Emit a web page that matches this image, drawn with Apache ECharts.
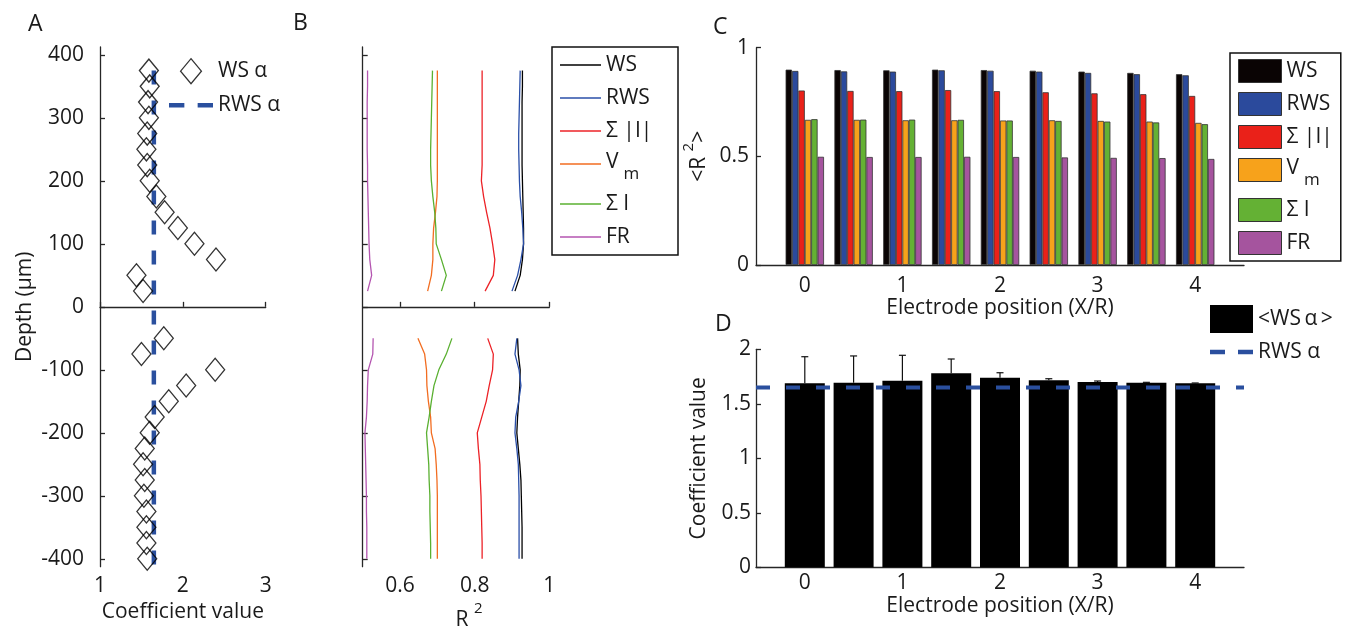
<!DOCTYPE html>
<html><head><meta charset="utf-8">
<script src="https://cdn.jsdelivr.net/npm/echarts@6/dist/echarts.min.js"></script>
<style>html,body{margin:0;padding:0;background:#fff}#c{width:1351px;height:628px}</style>
</head><body><div id="c"></div>
<script>
// ---- Panel A / B : depth profiles ----
const depthTop = [375,350,325,300,275,250,225,200,175,150,125,100,75,50,25];
const depthBottom = [-50,-75,-100,-125,-150,-175,-200,-225,-250,-275,-300,-325,-350,-375,-400];
const depthTicks = [-400,-300,-200,-100,0,100,200,300,400];
const wsAlphaTop = [1.59,1.60,1.58,1.59,1.57,1.56,1.57,1.60,1.68,1.78,1.94,2.14,2.40,1.44,1.52];
const wsAlphaBottom = [1.77,1.50,2.39,2.04,1.83,1.66,1.60,1.54,1.52,1.54,1.53,1.56,1.56,1.56,1.57];
const rwsAlpha = 1.65;
const rwsLineDepths = [375,-412.5];

const wsTop    = [0.928,0.928,0.927,0.927,0.927,0.927,0.927,0.928,0.929,0.930,0.931,0.931,0.928,0.922,0.908];
const rwsTop   = [0.922,0.921,0.920,0.919,0.918,0.918,0.919,0.920,0.922,0.926,0.929,0.931,0.924,0.915,0.900];
const absITop  = [0.820,0.820,0.820,0.820,0.820,0.820,0.820,0.818,0.824,0.832,0.841,0.848,0.854,0.850,0.828];
const vmTop    = [0.700,0.700,0.700,0.700,0.700,0.700,0.700,0.700,0.699,0.695,0.690,0.688,0.688,0.684,0.674];
const sumITop  = [0.687,0.686,0.685,0.684,0.683,0.682,0.682,0.684,0.688,0.693,0.696,0.697,0.711,0.724,0.711];
const frTop    = [0.513,0.513,0.512,0.512,0.512,0.512,0.513,0.513,0.514,0.515,0.516,0.517,0.519,0.524,0.513];
const wsBot    = [0.915,0.917,0.922,0.921,0.918,0.915,0.913,0.917,0.921,0.924,0.925,0.926,0.927,0.927,0.927];
const rwsBot   = [0.913,0.908,0.919,0.924,0.918,0.910,0.908,0.913,0.917,0.918,0.919,0.919,0.919,0.919,0.919];
const absIBot  = [0.835,0.850,0.848,0.839,0.831,0.819,0.807,0.810,0.814,0.815,0.817,0.818,0.819,0.820,0.820];
const vmBot    = [0.648,0.666,0.671,0.672,0.676,0.682,0.684,0.694,0.697,0.699,0.700,0.700,0.700,0.700,0.700];
const sumIBot  = [0.739,0.724,0.704,0.691,0.684,0.678,0.671,0.674,0.677,0.678,0.680,0.680,0.681,0.682,0.682];
const frBot    = [0.528,0.527,0.515,0.513,0.512,0.510,0.506,0.507,0.508,0.509,0.510,0.510,0.511,0.511,0.511];

// ---- Panel C / D : electrode position ----
const positions = ['0','0.5','1','1.5','2','2.5','3','3.5','4'];
const xCats = ['-0.5','0','0.5','1','1.5','2','2.5','3','3.5','4','4.5'];
const wsR2   = [0.899,0.897,0.896,0.899,0.897,0.894,0.890,0.884,0.878];
const rwsR2  = [0.893,0.891,0.890,0.896,0.894,0.890,0.884,0.878,0.873];
const absIR2 = [0.803,0.801,0.800,0.805,0.800,0.795,0.790,0.786,0.778];
const vmR2   = [0.668,0.668,0.666,0.666,0.665,0.666,0.663,0.660,0.654];
const sumIR2 = [0.671,0.669,0.669,0.668,0.665,0.663,0.660,0.656,0.648];
const frR2   = [0.498,0.497,0.497,0.498,0.497,0.495,0.493,0.492,0.488];
const wsAlphaMean = [1.688,1.694,1.712,1.780,1.740,1.715,1.700,1.694,1.688];
const wsAlphaStd  = [0.244,0.245,0.233,0.131,0.045,0.015,0.009,0.003,0.003];

const varNames = ['WS','RWS','Σ |I|','Vm','Σ I','FR'];
const lineColors = ['#000000','#2a4fa8','#ec2227','#f26d21','#5ab031','#b455b0'];
const barColors  = ['#0a0404','#2b4a9c','#ea2119','#f7a21b','#64b134','#a5549e'];

const FONT = 'Open Sans';
const TXT = '#1a1a1a';
const AX = '#262626';
const FS = 21;
const BLUE_DASH = '#2a4f9e';

const ICON_LINE = 'path://M0,0H41V1.3H0Z';
const ICON_DASH = 'path://M0,0H15V4.5H0Z M28,0H43V4.5H28Z';
const ICON_DIAMOND = 'path://M10,0L20,12L10,24L0,12Z';

function axisBase(){
  return {
    axisLine:{show:true,lineStyle:{color:AX,width:1.3}},
    axisTick:{show:true,inside:true,length:5,lineStyle:{color:AX,width:1.3}},
    splitLine:{show:false},
    axisLabel:{color:TXT,fontSize:FS,fontFamily:FONT},
    nameTextStyle:{color:TXT,fontSize:FS,fontFamily:FONT},
    nameLocation:'middle'
  };
}
function merge(a,b){
  const o = Object.assign({},a);
  for(const k in b){
    if(b[k] && typeof b[k]==='object' && !Array.isArray(b[k]) && a[k] && typeof a[k]==='object') o[k]=merge(a[k],b[k]);
    else o[k]=b[k];
  }
  return o;
}
const supRich = {sup:{fontSize:15,lineHeight:16,padding:[0,0,14,0],verticalAlign:'bottom',color:TXT,fontFamily:FONT},
                 b:{fontSize:FS,lineHeight:24,verticalAlign:'bottom',color:TXT,fontFamily:FONT}};
const legendRich = {v:{fontSize:FS,lineHeight:24,verticalAlign:'top',color:TXT,fontFamily:FONT},
                    sub:{fontSize:17,lineHeight:18,padding:[14,0,0,5],verticalAlign:'top',color:TXT,fontFamily:FONT},
                    t:{fontSize:FS,lineHeight:24,width:64,color:TXT,fontFamily:FONT}};
function legendFmt(name){
  const base = name.split('#')[0];
  return base === 'Vm' ? '{v|V}{sub|m}' : base;
}
function legendFmtWide(name){
  const base = name.split('#')[0];
  return base === 'Vm' ? '{v|V}{sub|m}' : '{t|' + base + '}';
}

const profilesTop = [wsTop,rwsTop,absITop,vmTop,sumITop,frTop];
const profilesBot = [wsBot,rwsBot,absIBot,vmBot,sumIBot,frBot];
const r2Series = [wsR2,rwsR2,absIR2,vmR2,sumIR2,frR2];

const series = [];
// Panel A
series.push({
  name:'RWS α#A', type:'line', xAxisIndex:0, yAxisIndex:0, symbol:'none', z:2,
  data: rwsLineDepths.map(d=>[rwsAlpha,d]),
  itemStyle:{color:BLUE_DASH},
  lineStyle:{color:BLUE_DASH,width:4.5,type:[14,16]}
});
series.push({
  name:'WS α#A', type:'scatter', xAxisIndex:0, yAxisIndex:0, z:3,
  symbol:'diamond', symbolSize:[19,23],
  itemStyle:{color:'rgba(0,0,0,0)',borderColor:'#000',borderWidth:1.3},
  data: depthTop.map((d,i)=>[wsAlphaTop[i],d]).concat(depthBottom.map((d,i)=>[wsAlphaBottom[i],d]))
});
// Panel B
varNames.forEach((n,k)=>{
  [[depthTop,profilesTop[k]],[depthBottom,profilesBot[k]]].forEach(([ds,vs])=>{
    series.push({
      name:n+'#B', type:'line', xAxisIndex:1, yAxisIndex:1, symbol:'none',
      lineStyle:{color:lineColors[k],width:1.3}, itemStyle:{color:lineColors[k]},
      data: ds.map((d,i)=>[vs[i],d])
    });
  });
});
// Panel C
varNames.forEach((n,k)=>{
  series.push({
    name:n+'#C', type:'bar', xAxisIndex:2, yAxisIndex:2, barWidth:6.4, barGap:'0%',
    itemStyle:{color:barColors[k],borderColor:'#333',borderWidth:0.8},
    data: positions.map((p,i)=>[p,r2Series[k][i]])
  });
});
// Panel D
series.push({
  name:'<WS\u2009α\u2009>#D', type:'bar', xAxisIndex:3, yAxisIndex:3, barWidth:40, z:2,
  itemStyle:{color:'#000'},
  data: positions.map((p,i)=>[p,wsAlphaMean[i]])
});
series.push({
  name:'errD', type:'custom', xAxisIndex:3, yAxisIndex:3, z:3,
  data: positions.map((p,i)=>[p,wsAlphaMean[i],wsAlphaMean[i]+wsAlphaStd[i]]),
  renderItem:function(params,api){
    const x = api.value(0);
    const p0 = api.coord([x,api.value(1)]);
    const p1 = api.coord([x,api.value(2)]);
    const st = {stroke:'#111',lineWidth:1.2};
    return {type:'group',children:[
      {type:'line',shape:{x1:p0[0],y1:p0[1],x2:p1[0],y2:p1[1]},style:st},
      {type:'line',shape:{x1:p1[0]-3.5,y1:p1[1],x2:p1[0]+3.5,y2:p1[1]},style:st}
    ]};
  }
});
series.push({
  name:'RWS α#D', type:'line', xAxisIndex:3, yAxisIndex:3, symbol:'none', z:4,
  data: xCats.map(c=>[c,rwsAlpha]),
  itemStyle:{color:BLUE_DASH},
  lineStyle:{color:BLUE_DASH,width:4,type:[14,16]}
});

const legendText = {color:TXT,fontSize:FS,fontFamily:FONT,lineHeight:24,rich:legendRich};

const option = {
  animation:false,
  backgroundColor:'#fff',
  textStyle:{fontFamily:FONT},
  title:[
    {text:'A',left:23,top:8,textStyle:{fontSize:23,fontWeight:'normal',color:TXT,fontFamily:FONT}},
    {text:'B',left:288,top:7,textStyle:{fontSize:23,fontWeight:'normal',color:TXT,fontFamily:FONT}},
    {text:'C',left:708,top:11,textStyle:{fontSize:23,fontWeight:'normal',color:TXT,fontFamily:FONT}},
    {text:'D',left:710,top:308,textStyle:{fontSize:23,fontWeight:'normal',color:TXT,fontFamily:FONT}}
  ],
  grid:[
    {left:100,top:47,width:165.7,height:519.7,outerBoundsMode:'none'},
    {left:362.7,top:47,width:186.6,height:519.7,outerBoundsMode:'none'},
    {left:756,top:47.7,width:488,height:217.3,outerBoundsMode:'none'},
    {left:756,top:349.3,width:488,height:218,outerBoundsMode:'none'}
  ],
  xAxis:[
    merge(axisBase(),{gridIndex:0,type:'value',min:1,max:3,interval:1,name:'Coefficient value',nameGap:30,
      axisLabel:{margin:9}}),
    merge(axisBase(),{gridIndex:1,type:'value',min:0.5,max:1,name:'R {sup|2}',nameGap:19,
      nameTextStyle:{rich:supRich,padding:[0,0,0,26]},
      axisLabel:{margin:9,customValues:[0.6,0.8,1]},axisTick:{customValues:[0.6,0.8,1]}}),
    merge(axisBase(),{gridIndex:2,type:'category',data:xCats,boundaryGap:false,name:'Electrode position (X/R)',nameGap:28,
      axisTick:{show:false},axisLabel:{interval:0,margin:11,formatter:v=>Number.isInteger(+v)?v:''}}),
    merge(axisBase(),{gridIndex:3,type:'category',data:xCats,boundaryGap:false,name:'Electrode position (X/R)',nameGap:28,
      axisTick:{show:false},axisLabel:{interval:0,margin:5,formatter:v=>Number.isInteger(+v)?v:''}})
  ],
  yAxis:[
    merge(axisBase(),{gridIndex:0,type:'value',min:-412.5,max:412.5,name:'Depth (μm)',nameGap:64,
      axisLabel:{margin:16,customValues:depthTicks},axisTick:{customValues:depthTicks}}),
    merge(axisBase(),{gridIndex:1,type:'value',min:-412.5,max:412.5,
      axisLabel:{show:false,customValues:depthTicks},axisTick:{customValues:depthTicks}}),
    merge(axisBase(),{gridIndex:2,type:'value',min:0,max:1,interval:0.5,name:'<R {sup|2}>',nameGap:46,
      nameTextStyle:{rich:supRich},axisLabel:{margin:7}}),
    merge(axisBase(),{gridIndex:3,type:'value',min:0,max:2,interval:0.5,name:'Coefficient value',nameGap:46,
      axisLabel:{margin:5}})
  ],
  legend:[
    {orient:'vertical',left:169,top:58,padding:0,itemWidth:44,itemHeight:25,itemGap:9,
      data:[
        {name:'WS α#A',icon:ICON_DIAMOND,itemStyle:{color:'rgba(0,0,0,0)',borderColor:'#000',borderWidth:1.3}},
        {name:'RWS α#A',icon:ICON_DASH,itemStyle:{color:BLUE_DASH,borderWidth:0}}
      ],
      formatter:legendFmt,textStyle:legendText},
    {orient:'vertical',left:552,top:47,padding:[6,8,6,8],borderColor:'#111',borderWidth:1.5,
      itemWidth:41,itemHeight:14,itemGap:9,
      data:varNames.map((n,k)=>({name:n+'#B',icon:ICON_LINE,itemStyle:{color:lineColors[k],borderWidth:0}})),
      formatter:legendFmtWide,textStyle:legendText},
    {orient:'vertical',left:1230,top:53,padding:[6,8,6,8],borderColor:'#111',borderWidth:1.5,
      itemWidth:43,itemHeight:23,itemGap:9,icon:'rect',
      data:varNames.map(n=>n+'#C'),formatter:legendFmt,textStyle:legendText,
      itemStyle:{borderColor:'#333',borderWidth:1}},
    {orient:'vertical',left:1210,top:305,padding:0,itemWidth:43,itemHeight:28,itemGap:7,
      data:[
        {name:'<WS\u2009α\u2009>#D',icon:'rect'},
        {name:'RWS α#D',icon:ICON_DASH,itemStyle:{color:BLUE_DASH,borderWidth:0}}
      ],
      formatter:legendFmt,textStyle:legendText}
  ],
  series:series
};
const chart = echarts.init(document.getElementById('c'),null,{renderer:'canvas'});
chart.setOption(option);
</script>
</body></html>
